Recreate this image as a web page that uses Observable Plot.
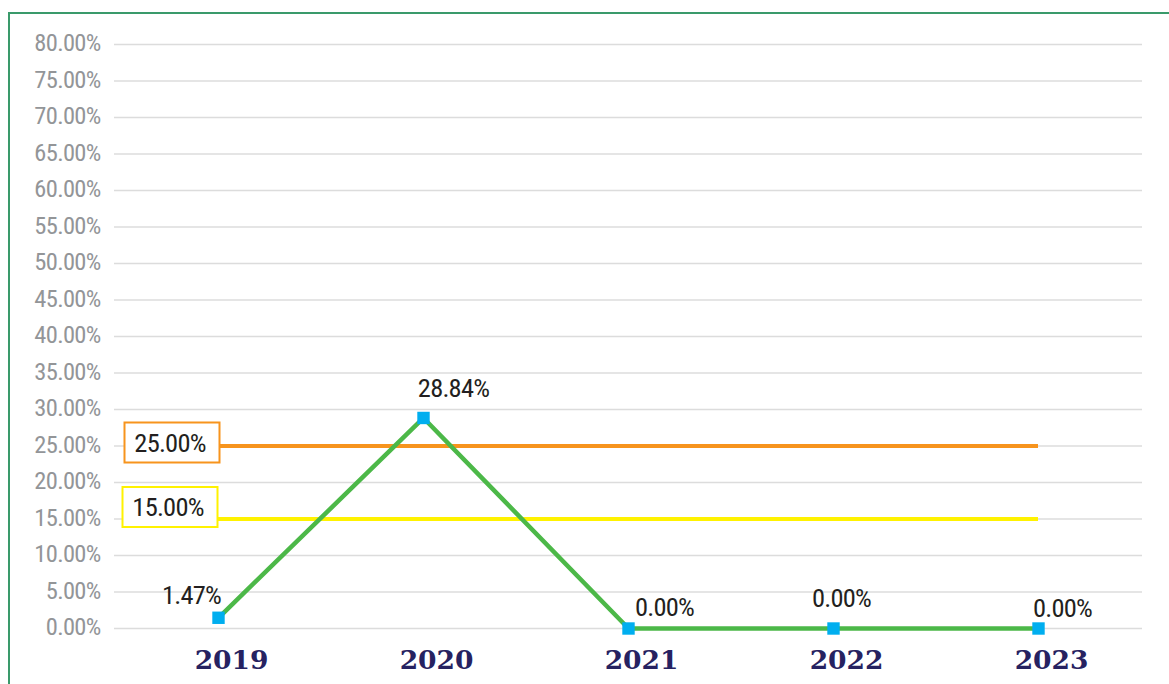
<!DOCTYPE html>
<html>
<head>
<meta charset="utf-8">
<script src="https://cdn.jsdelivr.net/npm/d3@7"></script>
<script src="https://cdn.jsdelivr.net/npm/@observablehq/plot@0.6"></script>
<style>
  html, body { margin: 0; padding: 0; background: #fff; overflow: hidden; }
  #wrap { position: relative; width: 1169px; height: 684px; overflow: hidden; }
  #frame { position: absolute; left: 8px; top: 12px; width: 1200px; height: 700px;
           border-left: 2px solid #3a9a6b; border-top: 2px solid #3a9a6b; box-sizing: border-box; }
  #chart { position: absolute; left: 0; top: 0; }
  g[aria-label="text"] text { letter-spacing: -0.8px; }
  g[aria-label="y-axis tick label"] text { letter-spacing: -0.7px; }
</style>
</head>
<body>
<div id="wrap"><div id="frame"></div><div id="chart"></div></div>
<script>
// ---- data ----
const years = ["2019", "2020", "2021", "2022", "2023"];
const values = [0.0147, 0.2884, 0.0, 0.0, 0.0];
const yTicks = [0, 0.05, 0.10, 0.15, 0.20, 0.25, 0.30, 0.35, 0.40, 0.45, 0.50, 0.55, 0.60, 0.65, 0.70, 0.75, 0.80];
const refValues = [0.25, 0.15];
const refColors = ["#f7941d", "#fff200"];

// ---- layout (label offsets, not data) ----
const labelOffsets = [[-27, -22], [30, -29], [36, -21], [8, -30], [24, -20]];
const refBoxOffsets = [[-46.5, -3.5], [-48.5, -12]];

const points = years.map((y, i) => ({year: y, value: values[i]}));
const fmt = d3.format(".2%");
const narrowFont = '"Liberation Sans Narrow", "Roboto Condensed", "DejaVu Sans Condensed", "Liberation Sans", sans-serif';

const boxSymbol = {
  draw(context, size) {
    const w = 95, h = 40;
    context.moveTo(-w / 2, -h / 2);
    context.lineTo(w / 2, -h / 2);
    context.lineTo(w / 2, h / 2);
    context.lineTo(-w / 2, h / 2);
    context.closePath();
  }
};

const marks = [
  Plot.ruleY(yTicks, {stroke: "#dcdcdc", strokeWidth: 1.5}),
  Plot.axisY(yTicks, {
    tickSize: 0, tickPadding: 14, tickFormat: fmt,
    fontSize: 24.5, fontFamily: narrowFont, color: "#939598", dy: -1
  }),
  Plot.axisX({
    tickSize: 0, tickPadding: 22, dx: 13,
    fontSize: 26.5, fontFamily: "DejaVu Serif", fontWeight: "bold", color: "#262261"
  }),
];

refValues.forEach((v, i) => {
  marks.push(Plot.ruleY([v], {
    y: d => d, x1: () => years[0], x2: () => years[years.length - 1],
    stroke: refColors[i], strokeWidth: 4
  }));
});

marks.push(Plot.line(points, {x: "year", y: "value", stroke: "#4cb848", strokeWidth: 4.5}));
marks.push(Plot.dot(points, {x: "year", y: "value", symbol: "square", r: 7, fill: "#00aeef", stroke: null}));

refValues.forEach((v, i) => {
  const [dx, dy] = refBoxOffsets[i];
  marks.push(Plot.dot([v], {
    x: () => years[0], y: d => d, symbol: boxSymbol,
    fill: "white", stroke: refColors[i], strokeWidth: 2, dx, dy
  }));
  marks.push(Plot.text([v], {
    x: () => years[0], y: d => d, text: d => fmt(d),
    fontSize: 26.5, fontFamily: narrowFont, fill: "#231f20", dx: dx - 2, dy: dy + 1
  }));
});

points.forEach((p, i) => {
  const [dx, dy] = labelOffsets[i];
  marks.push(Plot.text([p], {
    x: "year", y: "value", text: d => fmt(d.value),
    fontSize: 26.5, fontFamily: narrowFont, fill: "#231f20", dx, dy
  }));
});

const chart = Plot.plot({
  width: 1169,
  height: 684,
  marginLeft: 114,
  marginRight: 27,
  marginTop: 44,
  marginBottom: 56,
  style: {background: "transparent", overflow: "visible"},
  x: {type: "point", domain: years, padding: 0.5, label: null},
  y: {domain: [0, 0.8], label: null},
  marks
});
document.getElementById("chart").appendChild(chart);
</script>
</body>
</html>
